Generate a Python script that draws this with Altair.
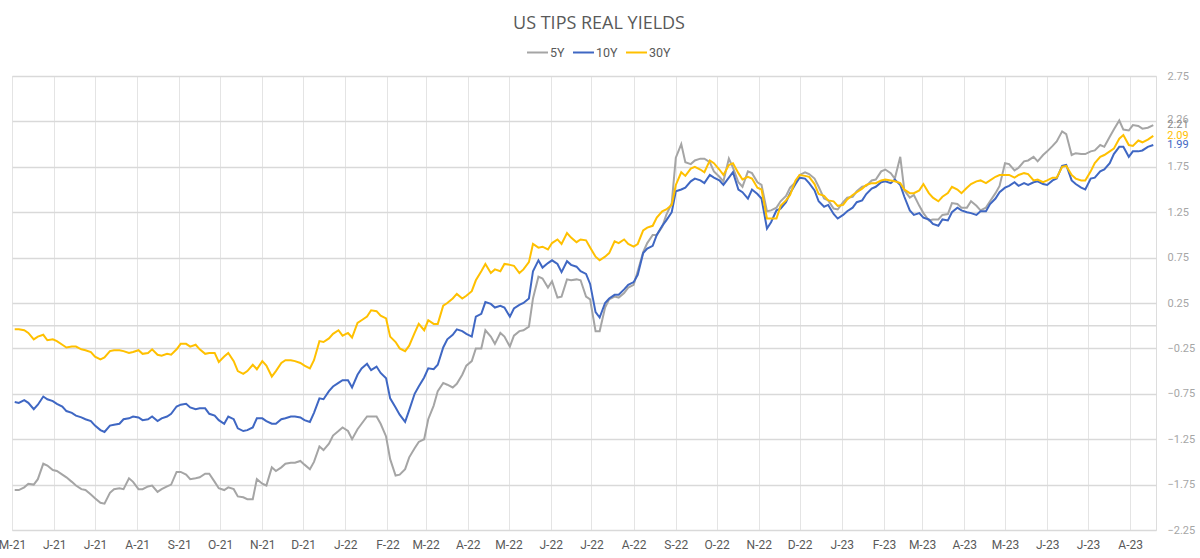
import altair as alt
import pandas as pd

# Twice-weekly observations: Mondays and Thursdays, plus the final print of the sample
mondays = pd.date_range("2021-05-03", periods=120, freq="7D")
thursdays = mondays[:119] + pd.Timedelta(days=3)
last_day = "2023-08-18"

# 5Y real yield
y5_mon = [
    -1.81, -1.78, -1.75, -1.52, -1.59, -1.64, -1.72, -1.80, -1.86, -1.95,
    -1.84, -1.79, -1.68, -1.80, -1.77, -1.83, -1.77, -1.61, -1.64, -1.68,
    -1.63, -1.72, -1.81, -1.80, -1.89, -1.91, -1.74, -1.56, -1.56, -1.51,
    -1.49, -1.58, -1.33, -1.30, -1.16, -1.16, -1.14, -1.00, -1.00, -1.22,
    -1.65, -1.58, -1.35, -1.25, -0.88, -0.63, -0.68, -0.54, -0.39, -0.25,
    -0.12, -0.08, -0.23, -0.06, -0.01, 0.54, 0.42, 0.31, 0.51, 0.51,
    0.32, -0.06, 0.20, 0.32, 0.36, 0.45, 0.81, 1.00, 1.09, 1.35,
    2.00, 1.78, 1.84, 1.80, 1.64, 1.84, 1.58, 1.70, 1.58, 1.26,
    1.30, 1.43, 1.58, 1.69, 1.62, 1.40, 1.29, 1.36, 1.42, 1.53,
    1.60, 1.70, 1.68, 1.86, 1.41, 1.32, 1.16, 1.17, 1.23, 1.34,
    1.30, 1.32, 1.30, 1.46, 1.79, 1.71, 1.81, 1.86, 1.88, 1.98,
    2.14, 1.88, 1.89, 1.92, 1.99, 2.08, 2.26, 2.15, 2.20, 2.18,
]
y5_thu = [
    -1.81, -1.74, -1.69, -1.54, -1.60, -1.67, -1.76, -1.81, -1.90, -1.96,
    -1.80, -1.80, -1.72, -1.80, -1.76, -1.80, -1.75, -1.61, -1.69, -1.67,
    -1.63, -1.79, -1.78, -1.88, -1.91, -1.69, -1.76, -1.60, -1.52, -1.51,
    -1.53, -1.50, -1.37, -1.21, -1.12, -1.25, -1.08, -1.00, -1.08, -1.47,
    -1.64, -1.45, -1.28, -1.03, -0.72, -0.65, -0.64, -0.44, -0.25, -0.05,
    -0.20, -0.12, -0.11, -0.05, 0.30, 0.52, 0.49, 0.32, 0.50, 0.50,
    0.29, -0.06, 0.29, 0.31, 0.42, 0.60, 0.91, 1.00, 1.22, 1.85,
    1.80, 1.82, 1.84, 1.70, 1.59, 1.74, 1.53, 1.68, 1.55, 1.27,
    1.37, 1.52, 1.66, 1.67, 1.53, 1.38, 1.28, 1.41, 1.48, 1.54,
    1.61, 1.72, 1.62, 1.49, 1.44, 1.24, 1.17, 1.22, 1.35, 1.30,
    1.37, 1.27, 1.37, 1.54, 1.78, 1.74, 1.82, 1.81, 1.92, 2.03,
    2.11, 1.90, 1.89, 1.93, 1.97, 2.16, 2.16, 2.21, 2.17,
]
y5_last = 2.21

# 10Y real yield
y10_mon = [
    -0.84, -0.82, -0.92, -0.78, -0.83, -0.89, -0.96, -1.01, -1.05, -1.15,
    -1.10, -1.08, -1.02, -1.01, -1.03, -1.05, -1.00, -0.89, -0.86, -0.92,
    -0.91, -0.99, -1.08, -1.03, -1.16, -1.12, -1.02, -1.08, -1.03, -1.00,
    -1.01, -1.06, -0.80, -0.72, -0.63, -0.60, -0.54, -0.42, -0.45, -0.58,
    -0.90, -1.06, -0.75, -0.57, -0.48, -0.24, -0.10, -0.06, -0.12, 0.13,
    0.24, 0.22, 0.10, 0.23, 0.30, 0.72, 0.69, 0.68, 0.71, 0.65,
    0.57, 0.15, 0.25, 0.34, 0.40, 0.48, 0.80, 0.88, 1.10, 1.25,
    1.50, 1.59, 1.60, 1.66, 1.60, 1.63, 1.50, 1.40, 1.45, 1.07,
    1.27, 1.36, 1.56, 1.62, 1.49, 1.31, 1.23, 1.22, 1.30, 1.38,
    1.51, 1.58, 1.57, 1.55, 1.27, 1.24, 1.17, 1.10, 1.16, 1.30,
    1.25, 1.22, 1.26, 1.40, 1.52, 1.58, 1.57, 1.58, 1.56, 1.60,
    1.76, 1.60, 1.52, 1.62, 1.70, 1.79, 1.97, 1.86, 1.92, 1.97,
]
y10_thu = [
    -0.85, -0.85, -0.87, -0.81, -0.86, -0.94, -0.99, -1.03, -1.10, -1.17,
    -1.09, -1.03, -1.00, -1.04, -1.00, -1.02, -0.97, -0.87, -0.90, -0.91,
    -0.97, -1.04, -1.00, -1.13, -1.15, -1.02, -1.05, -1.08, -1.02, -1.00,
    -1.04, -0.96, -0.81, -0.67, -0.60, -0.68, -0.47, -0.49, -0.52, -0.80,
    -0.98, -0.93, -0.67, -0.47, -0.43, -0.15, -0.04, -0.09, 0.10, 0.26,
    0.20, 0.20, 0.19, 0.25, 0.60, 0.64, 0.72, 0.59, 0.67, 0.60,
    0.46, 0.09, 0.30, 0.34, 0.45, 0.56, 0.85, 1.00, 1.16, 1.48,
    1.52, 1.62, 1.57, 1.63, 1.55, 1.69, 1.47, 1.50, 1.40, 1.14,
    1.29, 1.46, 1.63, 1.57, 1.37, 1.33, 1.18, 1.26, 1.36, 1.45,
    1.53, 1.59, 1.61, 1.42, 1.22, 1.19, 1.12, 1.17, 1.25, 1.27,
    1.24, 1.26, 1.34, 1.47, 1.54, 1.54, 1.55, 1.59, 1.55, 1.62,
    1.77, 1.56, 1.50, 1.63, 1.72, 1.89, 1.97, 1.92, 1.93,
]
y10_last = 1.99

# 30Y real yield
y30_mon = [
    -0.04, -0.05, -0.15, -0.10, -0.15, -0.21, -0.23, -0.26, -0.29, -0.37,
    -0.28, -0.27, -0.30, -0.27, -0.30, -0.32, -0.31, -0.26, -0.20, -0.21,
    -0.31, -0.30, -0.34, -0.39, -0.53, -0.43, -0.39, -0.56, -0.41, -0.38,
    -0.41, -0.47, -0.17, -0.14, -0.05, -0.08, 0.03, 0.10, 0.16, 0.08,
    -0.18, -0.28, -0.08, -0.05, 0.02, 0.22, 0.30, 0.30, 0.38, 0.60,
    0.58, 0.60, 0.67, 0.58, 0.70, 0.86, 0.84, 0.95, 1.02, 0.92,
    0.94, 0.76, 0.76, 0.93, 0.95, 0.87, 1.05, 1.10, 1.26, 1.33,
    1.69, 1.73, 1.72, 1.82, 1.72, 1.77, 1.68, 1.64, 1.52, 1.18,
    1.18, 1.38, 1.60, 1.65, 1.56, 1.43, 1.37, 1.33, 1.44, 1.51,
    1.57, 1.60, 1.60, 1.57, 1.46, 1.49, 1.46, 1.37, 1.46, 1.50,
    1.52, 1.59, 1.57, 1.64, 1.66, 1.63, 1.68, 1.60, 1.58, 1.63,
    1.75, 1.66, 1.60, 1.70, 1.86, 1.92, 2.06, 1.99, 2.04, 2.05,
]
y30_thu = [
    -0.04, -0.08, -0.12, -0.16, -0.17, -0.24, -0.23, -0.27, -0.34, -0.35,
    -0.27, -0.28, -0.29, -0.31, -0.26, -0.33, -0.32, -0.20, -0.23, -0.26,
    -0.30, -0.40, -0.30, -0.50, -0.50, -0.48, -0.44, -0.50, -0.38, -0.39,
    -0.44, -0.38, -0.18, -0.09, -0.11, -0.13, 0.06, 0.17, 0.11, -0.12,
    -0.25, -0.22, 0.02, 0.06, 0.02, 0.25, 0.35, 0.33, 0.50, 0.68,
    0.62, 0.68, 0.66, 0.62, 0.90, 0.87, 0.91, 0.90, 0.97, 0.95,
    0.86, 0.72, 0.80, 0.91, 0.90, 0.90, 1.08, 1.19, 1.28, 1.55,
    1.65, 1.75, 1.69, 1.79, 1.66, 1.79, 1.61, 1.62, 1.50, 1.18,
    1.32, 1.44, 1.66, 1.64, 1.45, 1.38, 1.32, 1.39, 1.47, 1.55,
    1.57, 1.61, 1.59, 1.50, 1.46, 1.56, 1.41, 1.42, 1.53, 1.46,
    1.56, 1.60, 1.60, 1.66, 1.66, 1.66, 1.67, 1.61, 1.60, 1.63,
    1.76, 1.62, 1.60, 1.79, 1.88, 1.95, 2.10, 1.98, 2.02,
]
y30_last = 2.09

series_names = ["5Y", "10Y", "30Y"]
series_colors = ["#A5A5A5", "#3F67C3", "#FFC000"]

# Values printed at the right-hand end of the lines
end_labels = ["2.26", "2.21", "2.09", "1.99"]
end_values = [2.26, 2.21, 2.09, 1.99]
end_colors = ["#A5A5A5", "#8C8C8C", "#FFC000", "#3F67C3"]

y_ticks = [2.75, 2.25, 1.75, 1.25, 0.75, 0.25, -0.25, -0.75, -1.25, -1.75, -2.25]
month_ticks = pd.date_range("2021-05-01", "2023-08-01", freq="MS")


def build_series(mon, thu, last):
    pts = []
    for i, d in enumerate(mondays):
        pts.append((d, mon[i]))
        if i < len(thursdays):
            pts.append((thursdays[i], thu[i]))
    pts.append((pd.Timestamp(last_day), last))
    return pts


rows = []
for name, mon, thu, last in [
    ("5Y", y5_mon, y5_thu, y5_last),
    ("10Y", y10_mon, y10_thu, y10_last),
    ("30Y", y30_mon, y30_thu, y30_last),
]:
    for d, v in build_series(mon, thu, last):
        rows.append({"date": d.strftime("%Y-%m-%d"), "series": name, "value": v})
df = pd.DataFrame(rows)

lbl_df = pd.DataFrame({
    "date": [last_day] * len(end_labels),
    "value": end_values,
    "text": end_labels,
    "color": end_colors,
})

x_scale = alt.Scale(
    type="utc",
    domain=[
        alt.DateTime(year=2021, month=5, date=1, utc=True),
        alt.DateTime(year=2023, month=8, date=20, utc=True),
    ],
)
y_scale = alt.Scale(domain=[-2.25, 2.75], nice=False, zero=False)

x_axis = alt.Axis(
    title=None,
    values=[alt.DateTime(year=d.year, month=d.month, date=1, utc=True) for d in month_ticks],
    labelExpr="slice(utcFormat(datum.value, '%b'), 0, 1) + '-' + utcFormat(datum.value, '%y')",
    labelFont="Roboto",
    labelFontSize=12,
    labelColor="#595959",
    labelPadding=9,
    labelAngle=0,
    labelFlush=False,
    labelOverlap=False,
    ticks=False,
    domain=False,
    grid=True,
    gridColor="#E4E4E4",
    gridWidth=1,
)

# the 2.25 slot is taken by the end-of-line value labels
y_axis = alt.Axis(
    title=None,
    orient="right",
    values=y_ticks,
    labelExpr="abs(datum.value - 2.25) < 0.001 ? '' : format(datum.value, '.2f')",
    labelFont="Roboto",
    labelFontSize=11,
    labelColor="#A6A6A6",
    labelPadding=11,
    ticks=False,
    domain=False,
    grid=True,
    gridColor="#D9D9D9",
    gridWidth=1.5,
)

lines = alt.Chart(df).mark_line(strokeWidth=2).encode(
    x=alt.X("date:T", scale=x_scale, axis=x_axis),
    y=alt.Y("value:Q", scale=y_scale, axis=y_axis),
    color=alt.Color(
        "series:N",
        scale=alt.Scale(domain=series_names, range=series_colors),
        sort=series_names,
        legend=alt.Legend(
            title=None,
            orient="none",
            legendX=514,
            legendY=-35,
            direction="horizontal",
            symbolType="stroke",
            symbolSize=440,
            symbolStrokeWidth=2,
            labelFont="Roboto",
            labelFontSize=12.5,
            labelColor="#595959",
            labelOffset=1,
            columnPadding=4,
        ),
    ),
    order=alt.Order("date:T"),
)

zero_line = alt.Chart(pd.DataFrame({"value": [0.0]})).mark_rule(
    color="#D9D9D9", strokeWidth=1.5
).encode(y=alt.Y("value:Q", scale=y_scale))

end_text = alt.Chart(lbl_df).mark_text(
    align="left", baseline="middle", dx=14, font="Roboto", fontSize=11
).encode(
    x=alt.X("date:T", scale=x_scale),
    y=alt.Y("value:Q", scale=y_scale),
    text="text:N",
    color=alt.Color("color:N", scale=None),
)

chart = (
    alt.layer(zero_line, lines, end_text)
    .properties(
        width=1144,
        height=454,
        title=alt.TitleParams(
            text="US TIPS REAL YIELDS",
            font="Open Sans",
            fontSize=18,
            fontWeight="normal",
            color="#595959",
            anchor="middle",
            dx=15,
            offset=8,
        ),
        autosize=alt.AutoSizeParams(type="none"),
        padding={"left": 12, "top": 76, "right": 44, "bottom": 28},
    )
    .configure_view(stroke=None)
    .configure(background="white")
)

chart.save("out.html", embed_options={"renderer": "svg", "actions": False})
